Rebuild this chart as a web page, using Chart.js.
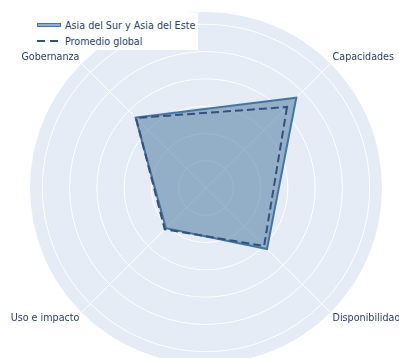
<!DOCTYPE html>
<html lang="es">
<head>
<meta charset="utf-8">
<title>Radar</title>
<script src="https://cdn.jsdelivr.net/npm/chart.js@4.4.1/dist/chart.umd.min.js"></script>
<style>
  html, body { margin: 0; padding: 0; background: #fff; overflow: hidden; }
  body { width: 399px; height: 358px; position: relative; font-family: "DejaVu Sans", Verdana, sans-serif; color: #2a3f5f; }
  #radar { position: absolute; left: -4px; top: 12px; }
  .legend { position: absolute; left: 30px; top: 13px; width: 168px; height: 37px; background: #fff; font-size: 9.6px; }
  .legend-item { position: absolute; left: 7px; height: 14px; display: flex; align-items: center; white-space: nowrap; }
  .swatch { width: 24px; margin-right: 4px; box-sizing: border-box; }
  .swatch.fill { height: 4px; background: #93afc8; border: 1px solid #4575a0; }
  .swatch.dash { height: 2px; background: repeating-linear-gradient(to right, #34507d 0 8px, transparent 8px 13px); }
</style>
</head>
<body>
<canvas id="radar" width="420" height="352"></canvas>
<div class="legend" id="legend"></div>
<script>
/* ============================================================
   RADAR - Asia del Sur y Asia del Este vs promedio global
   ============================================================ */

const axisLabels = ['Capacidades', 'Disponibilidad', 'Uso e impacto', 'Gobernanza'];
const seriesNames = ['Asia del Sur y Asia del Este', 'Promedio global'];
const regionValues = [46.8, 31.6, 20.8, 36.5];
const globalValues = [42.0, 30.1, 21.4, 36.3];
const radialMax = 64.5;
const radialStep = 10;

const textColor = '#2a3f5f';
const fontFamily = '"DejaVu Sans", Verdana, sans-serif';

function renderLegend() {
    const el = document.getElementById('legend');
    el.innerHTML = `
      <div class="legend-item" style="top:5px"><div class="swatch fill"></div>${seriesNames[0]}</div>
      <div class="legend-item" style="top:21px"><div class="swatch dash"></div>${seriesNames[1]}</div>
    `;
}

function renderRadar() {
    const ctx = document.getElementById('radar');
    return new Chart(ctx, {
        type: 'radar',
        data: {
            labels: axisLabels,
            datasets: [
                { label: seriesNames[0], data: regionValues, borderColor: '#4575a0', backgroundColor: 'rgba(92,134,169,0.6)', borderWidth: 2, fill: true, pointRadius: 0, order: 1 },
                { label: seriesNames[1], data: globalValues, borderColor: '#34507d', borderDash: [8, 4], borderWidth: 2, fill: false, pointRadius: 0, order: 0 }
            ]
        },
        options: {
            responsive: false, animation: false,
            elements: { line: { tension: 0 } },
            plugins: { legend: { display: false }, tooltip: { enabled: false } },
            scales: {
                r: {
                    min: 0, max: radialMax, startAngle: 45,
                    backgroundColor: '#e5ecf6',
                    grid: { circular: true, lineWidth: 1, color: c => (c.tick && c.tick.value >= radialMax) ? 'rgba(0,0,0,0)' : '#ffffff' },
                    angleLines: { color: '#ffffff', lineWidth: 1 },
                    ticks: { display: false, stepSize: radialStep },
                    pointLabels: { padding: 3, color: textColor, font: { family: fontFamily, size: 9.6, lineHeight: 0.8 } }
                }
            }
        }
    });
}

renderRadar();
renderLegend();
</script>
</body>
</html>
